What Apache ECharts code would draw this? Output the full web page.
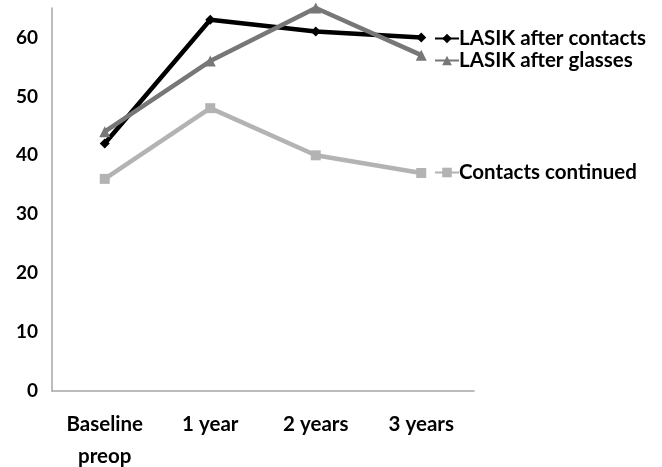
<!DOCTYPE html>
<html lang="en">
<head>
    <meta charset="UTF-8">
    <title>LASIK chart</title>
    <script src="https://cdn.jsdelivr.net/npm/echarts@6/dist/echarts.min.js"></script>
    <style>
        html, body { margin: 0; padding: 0; background: #fff; }
        #container { width: 662px; height: 467px; }
    </style>
</head>
<body>
<div id="container"></div>
<script type="text/javascript">
    // data
    var categories = ['Baseline\npreop', '1 year', '2 years', '3 years'];
    var afterContacts = [42, 63, 61, 60];
    var afterGlasses = [44, 56, 65, 57];
    var contactsContinued = [36, 48, 40, 37];
    var yTicks = [0, 10, 20, 30, 40, 50, 60];

    var font = 'Lato, "Open Sans", sans-serif';
    var myChart = echarts.init(document.getElementById('container'));

    function line(name, data, color, symbol, size) {
        return {
            name: name,
            type: 'line',
            data: data,
            symbol: symbol,
            symbolSize: size,
            showAllSymbol: true,
            lineStyle: { color: color, width: 4.5 },
            itemStyle: { color: color },
            animation: false
        };
    }

    function legendAt(name, top) {
        return {
            data: [name],
            left: 434,
            top: top,
            itemWidth: 24,
            itemHeight: 12,
            padding: 0,
            textStyle: { fontFamily: font, fontWeight: 'bold', fontSize: 20.5, color: '#000', padding: [0, 0, 0, -5] }
        };
    }

    var option = {
        grid: { left: 52, right: 188, top: 8, bottom: 76, outerBoundsMode: 'none' },
        legend: [
            legendAt('LASIK after contacts', 28),
            legendAt('LASIK after glasses', 50),
            legendAt('Contacts continued', 162)
        ],
        xAxis: {
            type: 'category',
            data: categories,
            boundaryGap: true,
            axisLine: { lineStyle: { color: '#a6a6a6', width: 1.5 } },
            axisTick: { show: false },
            axisLabel: {
                fontFamily: font, fontWeight: 'bold', fontSize: 20.5, color: '#000',
                margin: 17, lineHeight: 32, interval: 0
            }
        },
        yAxis: {
            type: 'value',
            min: 0,
            max: 65,
            interval: 10,
            splitLine: { show: false },
            axisLine: { show: true, lineStyle: { color: '#a6a6a6', width: 1.5 } },
            axisTick: { show: false },
            axisLabel: {
                fontFamily: font, fontWeight: 'bold', fontSize: 19, color: '#000', margin: 14,
                formatter: function (v) { return yTicks.indexOf(v) >= 0 ? String(v) : ''; }
            }
        },
        series: [
            line('LASIK after contacts', afterContacts, '#000000', 'diamond', 10),
            line('LASIK after glasses', afterGlasses, '#777777', 'triangle', 11),
            line('Contacts continued', contactsContinued, '#b3b3b3', 'rect', 10)
        ]
    };
    myChart.setOption(option);
</script>
</body>
</html>
